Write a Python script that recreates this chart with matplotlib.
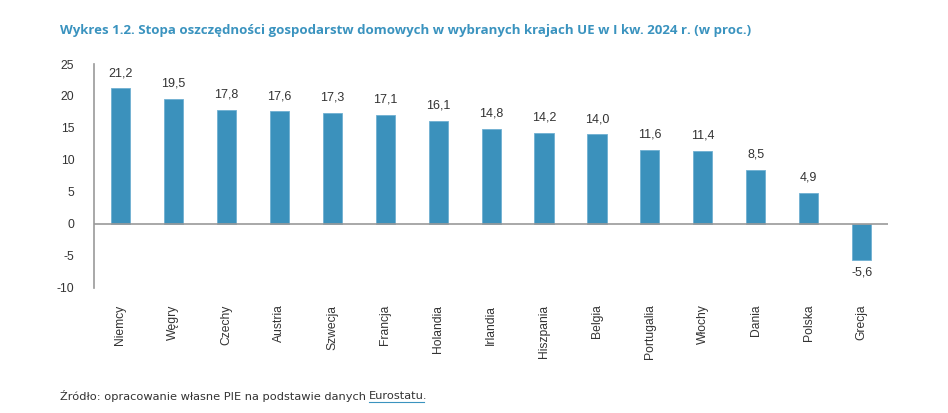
import matplotlib.pyplot as plt
import numpy as np

countries = ['Niemcy', 'Węgry', 'Czechy', 'Austria', 'Szwecja', 'Francja', 'Holandia',
             'Irlandia', 'Hiszpania', 'Belgia', 'Portugalia', 'Włochy', 'Dania', 'Polska', 'Grecja']
values = [21.2, 19.5, 17.8, 17.6, 17.3, 17.1, 16.1, 14.8, 14.2, 14.0, 11.6, 11.4, 8.5, 4.9, -5.6]
yticks = [25, 20, 15, 10, 5, 0, -5, -10]

bar_color = '#3b91bc'
title_color = '#3a93bf'
text_color = '#333333'

plt.rcParams['font.family'] = ['Liberation Sans', 'DejaVu Sans']

fig = plt.figure(figsize=(9.48, 4.13), dpi=100)
ax = fig.add_axes([0.099, 0.303, 0.838, 0.542])

x = np.arange(len(countries))
ax.bar(x, values, width=0.36, color=bar_color, edgecolor='#6fb0d2', linewidth=0.6)
ax.axhline(0, color='#999999', linewidth=1.2, zorder=3)

for xi, v in zip(x, values):
    label = ('%.1f' % v).replace('.', ',')
    off = 11 if v >= 0 else -9
    ax.annotate(label, (xi, v), xytext=(0, off), textcoords='offset points',
                ha='center', va='center', fontsize=9, color=text_color)

ax.set_xlim(-0.5, len(countries) - 0.5)
ax.set_ylim(-10, 25)
ax.set_yticks(yticks)
ax.set_yticklabels([str(t) for t in yticks])
ax.set_xticks(x)
ax.set_xticklabels(countries, rotation=90)
ax.tick_params(axis='x', length=0, pad=12, labelsize=8.7, labelcolor=text_color)
ax.tick_params(axis='y', length=0, pad=14, labelsize=8.7, labelcolor=text_color)

for s in ['top', 'right', 'bottom']:
    ax.spines[s].set_visible(False)
ax.spines['left'].set_color('#999999')
ax.spines['left'].set_linewidth(1.2)

fig.text(0.063, 0.925, 'Wykres 1.2. Stopa oszczędności gospodarstw domowych w wybranych krajach UE w I kw. 2024 r. (w proc.)',
         fontsize=9.5, fontweight='bold', color=title_color, ha='left', va='center',
         family=['Open Sans', 'DejaVu Sans'])

src_font = ['DejaVu Sans']
src = fig.text(0.063, 0.04, 'Źródło: opracowanie własne PIE na podstawie danych ', fontsize=8.2,
               color=text_color, ha='left', va='center', family=src_font)
fig.canvas.draw()
bb = src.get_window_extent()
link = fig.text(bb.x1 / fig.bbox.width, 0.04, 'Eurostatu.', fontsize=8.2, color=text_color,
                ha='left', va='center', family=src_font)
fig.canvas.draw()
lb = link.get_window_extent()
dot_w = 4
fig.add_artist(plt.Line2D([lb.x0 / fig.bbox.width, (lb.x1 - dot_w) / fig.bbox.width],
                          [(lb.y0 - 1) / fig.bbox.height] * 2, color=title_color, linewidth=0.8))

fig.savefig('out.png', dpi=100)
